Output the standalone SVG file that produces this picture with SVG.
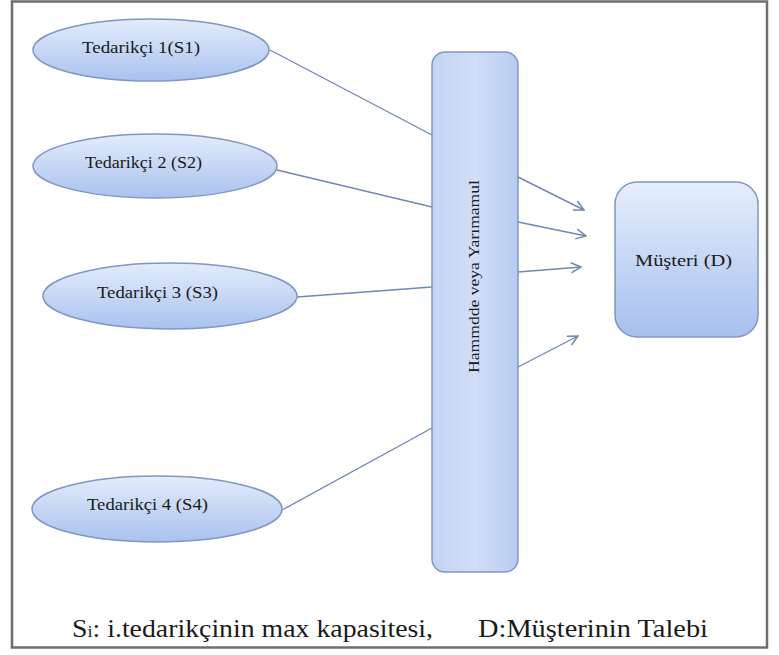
<svg xmlns="http://www.w3.org/2000/svg" width="779" height="655" viewBox="0 0 779 655">
  <style>
    .node-shape { stroke: #8196c0; stroke-width: 1.5; }
    .conn { stroke: #7287b3; stroke-width: 1.4; fill: none; }
    .arrow { stroke: #7287b3; stroke-width: 1.4; fill: none; marker-end: url(#chev); }
    .serif { font-family: "Liberation Serif", "DejaVu Serif", serif; fill: #1a1a1a; }
  </style>
  <defs>
    <linearGradient id="gEll" x1="0" y1="0" x2="0" y2="1">
      <stop offset="0" stop-color="#e4ecfc"/>
      <stop offset="1" stop-color="#a9c2ee"/>
    </linearGradient>
    <linearGradient id="gBar" x1="0" y1="0" x2="1" y2="0">
      <stop offset="0" stop-color="#c2d3f4"/>
      <stop offset="0.5" stop-color="#d3def7"/>
      <stop offset="1" stop-color="#b7cbf1"/>
    </linearGradient>
    <linearGradient id="gBox" x1="0" y1="0" x2="0" y2="1">
      <stop offset="0" stop-color="#e6eefc"/>
      <stop offset="1" stop-color="#a7c0ee"/>
    </linearGradient>
    <marker id="chev" viewBox="0 0 12 12" refX="11" refY="6" markerWidth="12" markerHeight="12" markerUnits="userSpaceOnUse" orient="auto">
      <path d="M1,1 L11,6 L1,11" fill="none" stroke="#7287b3" stroke-width="1.5"/>
    </marker>
  </defs>

  <!-- outer frame -->
  <rect x="0" y="0" width="779" height="655" fill="#ffffff"/>
  <rect x="12" y="1.5" width="755" height="646" fill="none" stroke="#6e6e6e" stroke-width="2.5"/>

  <!-- connectors -->
  <g id="connectors">
    <line class="conn" x1="270" y1="50" x2="432" y2="135"/>
    <line class="conn" x1="277" y1="170" x2="432" y2="207"/>
    <line class="conn" x1="297" y1="297" x2="432" y2="287"/>
    <line class="conn" x1="282" y1="510" x2="432" y2="428"/>
    <line class="arrow" x1="518" y1="177" x2="584" y2="210"/>
    <line class="arrow" x1="518" y1="222" x2="586" y2="236"/>
    <line class="arrow" x1="518" y1="272" x2="581" y2="267"/>
    <line class="arrow" x1="518" y1="367" x2="578" y2="336"/>
  </g>

  <g id="s1">
    <ellipse class="node-shape" cx="151" cy="50" rx="118" ry="31" fill="url(#gEll)"/>
    <text class="serif" x="82" y="53" font-size="17" textLength="118" lengthAdjust="spacingAndGlyphs">Tedarikçi 1(S1)</text>
  </g>
  <g id="s2">
    <ellipse class="node-shape" cx="155" cy="166" rx="122" ry="32" fill="url(#gEll)"/>
    <text class="serif" x="85" y="168" font-size="17" textLength="117" lengthAdjust="spacingAndGlyphs">Tedarikçi 2 (S2)</text>
  </g>
  <g id="s3">
    <ellipse class="node-shape" cx="170" cy="296" rx="127" ry="33" fill="url(#gEll)"/>
    <text class="serif" x="97" y="298" font-size="17" textLength="121" lengthAdjust="spacingAndGlyphs">Tedarikçi 3 (S3)</text>
  </g>
  <g id="s4">
    <ellipse class="node-shape" cx="157" cy="509" rx="125" ry="33" fill="url(#gEll)"/>
    <text class="serif" x="87" y="510" font-size="17" textLength="121" lengthAdjust="spacingAndGlyphs">Tedarikçi 4 (S4)</text>
  </g>

  <g id="hammadde">
    <rect class="node-shape" x="432" y="52" width="86" height="520" rx="13" fill="url(#gBar)"/>
    <text class="serif" transform="translate(479,373) rotate(-90)" font-size="15" textLength="193" lengthAdjust="spacingAndGlyphs">Hammdde  veya Yarımamul</text>
  </g>

  <g id="musteri">
    <rect class="node-shape" x="615" y="182" width="143" height="155" rx="22" fill="url(#gBox)"/>
    <text class="serif" x="635" y="266" font-size="16" textLength="97" lengthAdjust="spacingAndGlyphs">Müşteri (D)</text>
  </g>

  <!-- legend -->
  <text class="serif" x="72" y="637" font-size="26" textLength="361" lengthAdjust="spacingAndGlyphs">S<tspan font-size="17">i</tspan>: i.tedarikçinin max kapasitesi,</text>
  <text class="serif" x="478" y="637" font-size="26" textLength="230" lengthAdjust="spacingAndGlyphs">D:Müşterinin Talebi</text>
</svg>
